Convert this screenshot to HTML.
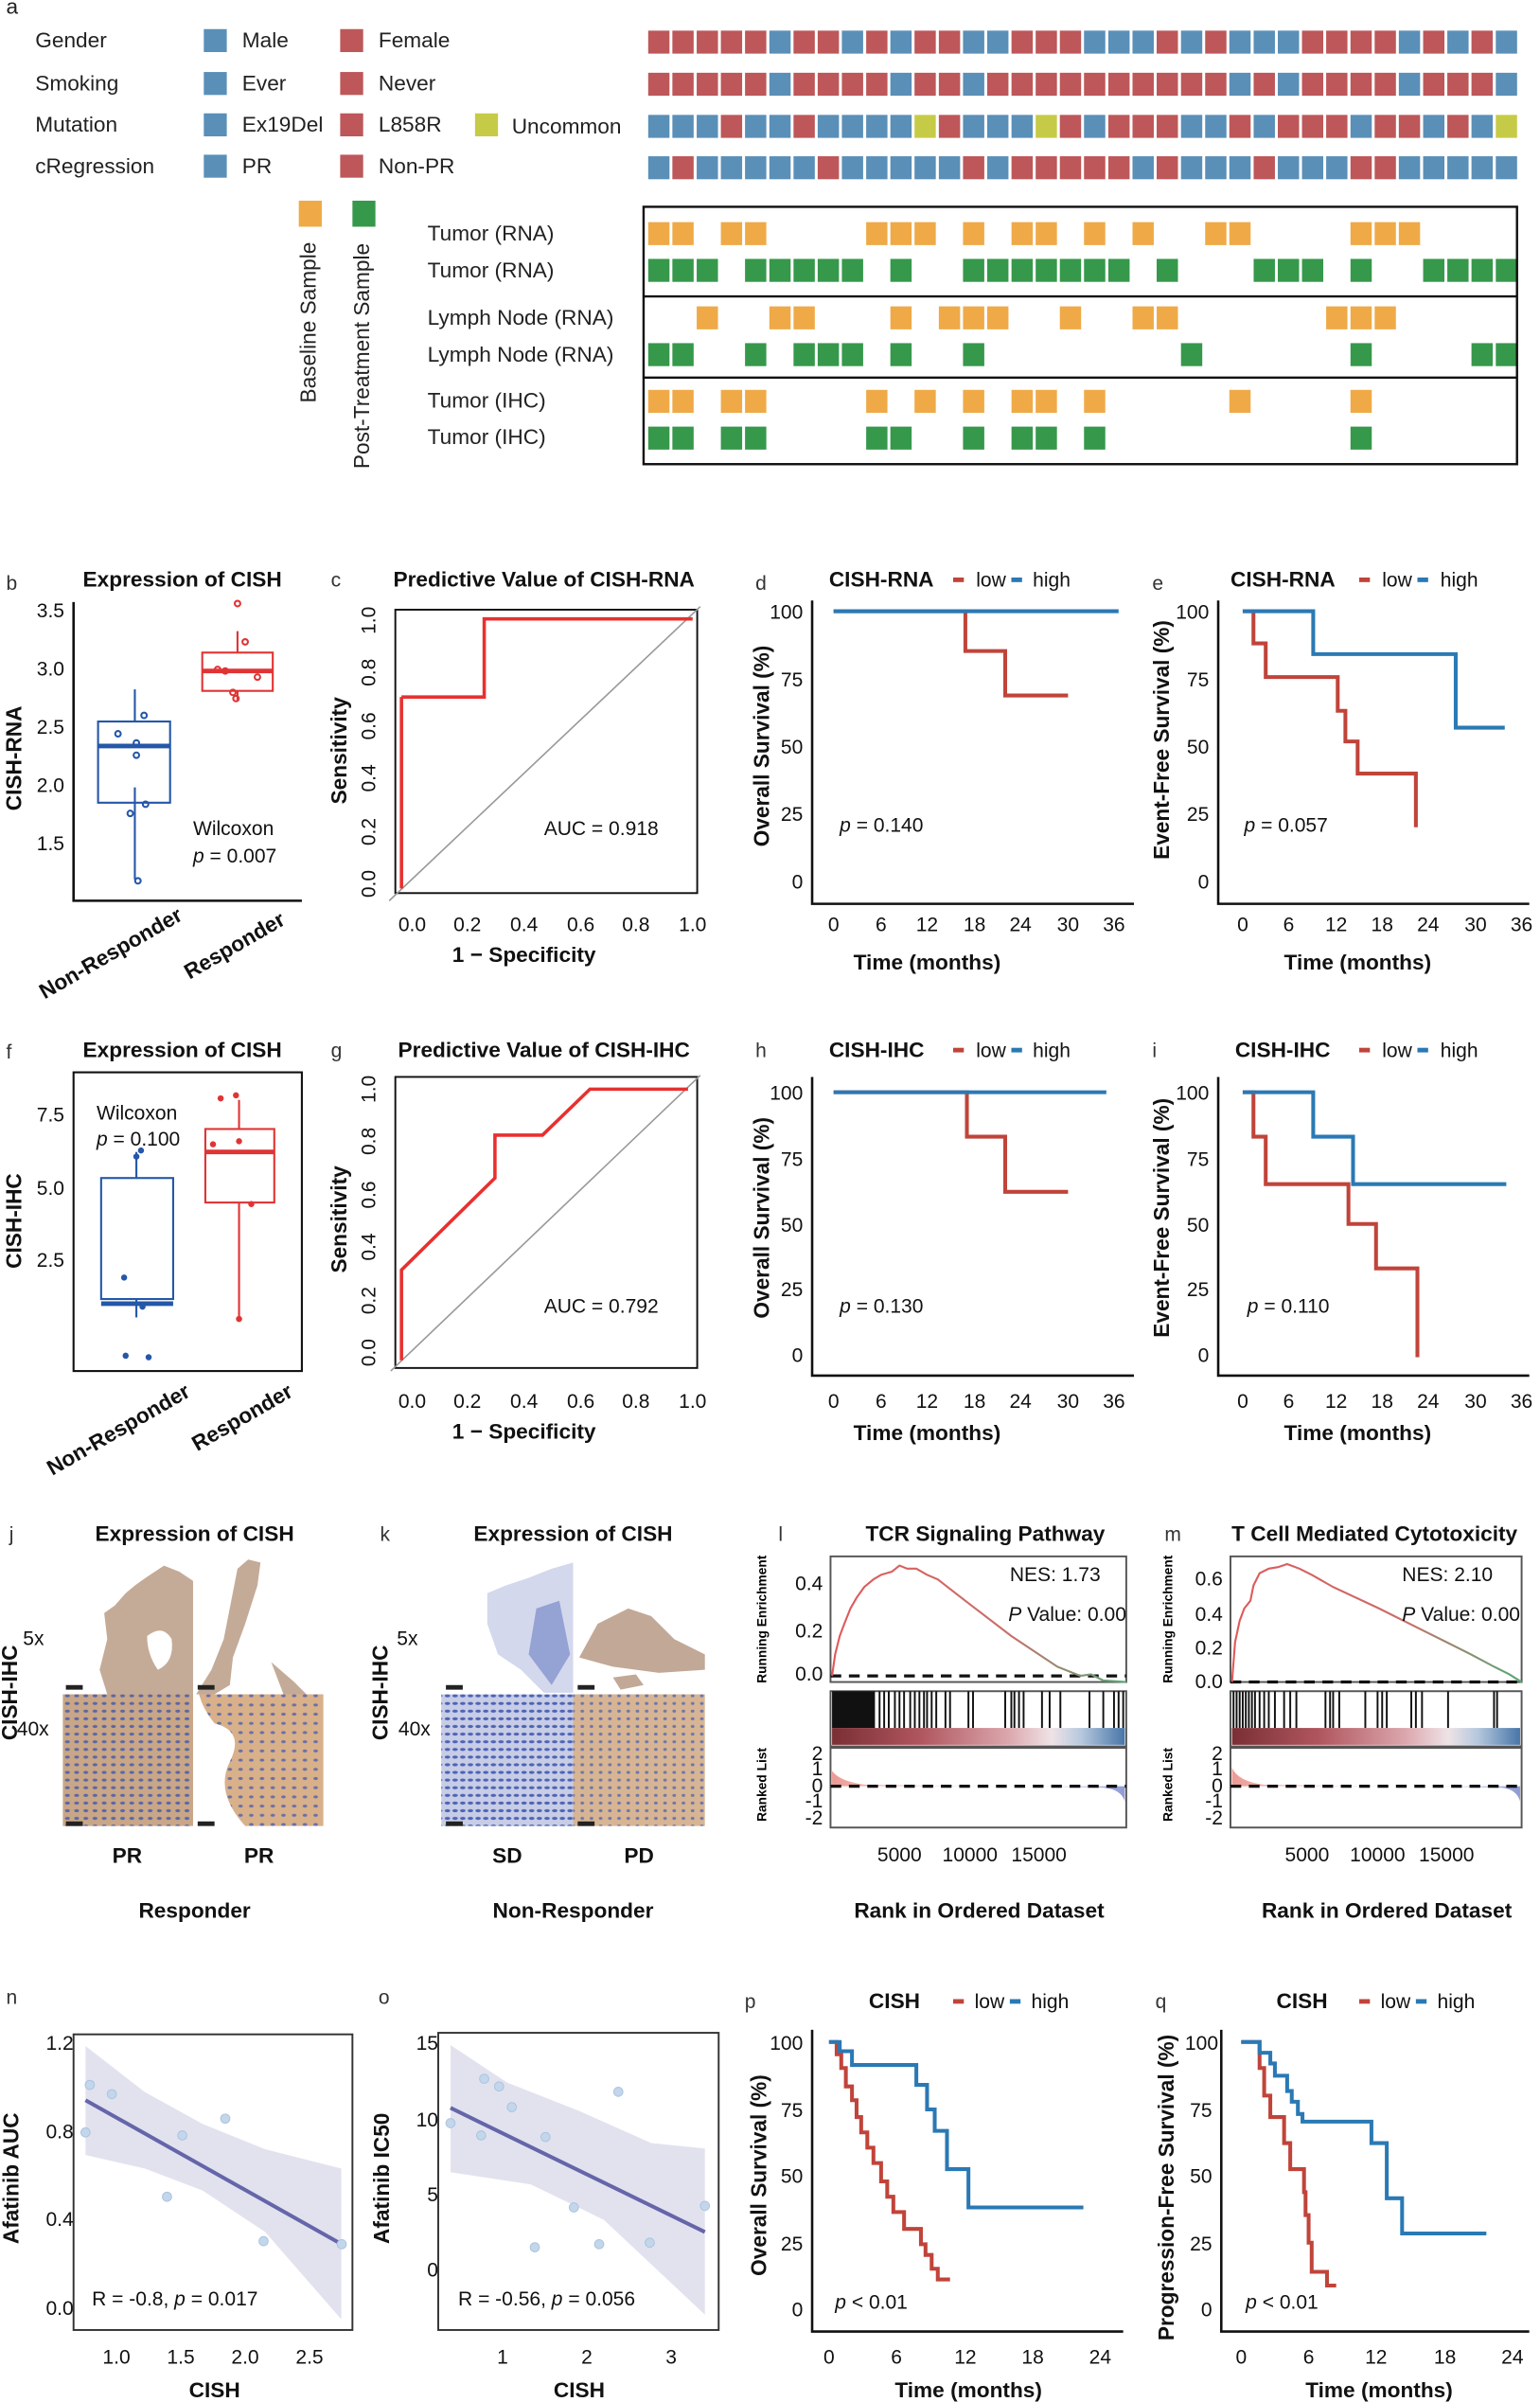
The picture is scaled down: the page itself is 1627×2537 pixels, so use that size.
<!DOCTYPE html>
<html><head><meta charset="utf-8">
<style>
html,body{margin:0;padding:0;background:#fff;}
svg{display:block;font-family:"Liberation Sans",sans-serif;}
.tl rect{width:14px;height:15px;}
.r{fill:#bd5759}.b{fill:#5a8fb8}.y{fill:#c6cb47}.o{fill:#efaa47}.g{fill:#36984b}
.lab{font-size:14px;fill:#222}
.t{font-size:14px;font-weight:bold;fill:#111}
.k{font-size:13px;fill:#111}
.pl{font-size:13px;fill:#333}
.ax{stroke:#111;stroke-width:1.6;fill:none}
.ln{fill:none;stroke-width:2.5}
</style></head><body>
<svg width="1627" height="2537" viewBox="0 0 1005 1568" preserveAspectRatio="none">
<defs>
<pattern id="pb" width="6" height="5" patternUnits="userSpaceOnUse"><rect width="6" height="5" fill="#c8a687"/><ellipse cx="2" cy="2" rx="1.6" ry="1" fill="#5a67a6"/></pattern>
<pattern id="pb2" width="7" height="6" patternUnits="userSpaceOnUse"><rect width="7" height="6" fill="#d8b08a"/><ellipse cx="3" cy="3" rx="1.5" ry="1" fill="#6b6fa8"/></pattern>
<pattern id="pbl" width="5" height="5" patternUnits="userSpaceOnUse"><rect width="5" height="5" fill="#c7cde6"/><ellipse cx="2" cy="2" rx="1.8" ry="1" fill="#4f63b5"/></pattern>
<pattern id="pd" width="6" height="5" patternUnits="userSpaceOnUse"><rect width="6" height="5" fill="#d7b594"/><ellipse cx="2" cy="2" rx="1.2" ry="1" fill="#7077a8"/></pattern>
<linearGradient id="ge" x1="0" x2="1"><stop offset="0" stop-color="#e0585a"/><stop offset="0.6" stop-color="#c8706a"/><stop offset="1" stop-color="#55aa77"/></linearGradient>
<linearGradient id="gb" x1="0" x2="1"><stop offset="0" stop-color="#7a2f35"/><stop offset="0.3" stop-color="#b0555e"/><stop offset="0.6" stop-color="#dba6ac"/><stop offset="0.75" stop-color="#efe3e6"/><stop offset="0.85" stop-color="#b7c9de"/><stop offset="1" stop-color="#4876a8"/></linearGradient>
<linearGradient id="gr" x1="0" x2="1"><stop offset="0" stop-color="#ec9a94"/><stop offset="0.3" stop-color="#f6dcd8"/><stop offset="0.7" stop-color="#fff"/><stop offset="1" stop-color="#8e9ad3"/></linearGradient>
</defs>

<!-- Panel a -->
<text x="4" y="9" class="lab" font-size="12">a</text>
<g class="lab">
<text x="23" y="31">Gender</text><text x="23" y="59">Smoking</text><text x="23" y="86">Mutation</text><text x="23" y="113">cRegression</text>
<rect x="133" y="19" width="15" height="15" class="b"/><text x="158" y="31">Male</text>
<rect x="222" y="19" width="15" height="15" class="r"/><text x="247" y="31">Female</text>
<rect x="133" y="47" width="15" height="15" class="b"/><text x="158" y="59">Ever</text>
<rect x="222" y="47" width="15" height="15" class="r"/><text x="247" y="59">Never</text>
<rect x="133" y="74" width="15" height="15" class="b"/><text x="158" y="86">Ex19Del</text>
<rect x="222" y="74" width="15" height="15" class="r"/><text x="247" y="86">L858R</text>
<rect x="310" y="74" width="15" height="15" class="y"/><text x="334" y="87">Uncommon</text>
<rect x="133" y="101" width="15" height="15" class="b"/><text x="158" y="113">PR</text>
<rect x="222" y="101" width="15" height="15" class="r"/><text x="247" y="113">Non-PR</text>
<rect x="195" y="131" width="15" height="17" class="o"/>
<rect x="230" y="131" width="15" height="17" class="g"/>
<text transform="translate(206,263) rotate(-90)">Baseline Sample</text>
<text transform="translate(241,306) rotate(-90)">Post-Treatment Sample</text>
<text x="279" y="157">Tumor (RNA)</text><text x="279" y="181">Tumor (RNA)</text>
<text x="279" y="212">Lymph Node (RNA)</text><text x="279" y="236">Lymph Node (RNA)</text>
<text x="279" y="266">Tumor (IHC)</text><text x="279" y="290">Tumor (IHC)</text>
</g>
<g transform="translate(3.4,0) scale(0.992,1)">
<g class="tl" transform="translate(0,20)">
<rect x="423" class="r"/><rect x="438.9" class="r"/><rect x="454.9" class="r"/><rect x="470.8" class="r"/><rect x="486.7" class="r"/><rect x="502.7" class="b"/><rect x="518.6" class="r"/><rect x="534.5" class="r"/><rect x="550.4" class="b"/><rect x="566.4" class="r"/><rect x="582.3" class="b"/><rect x="598.2" class="r"/><rect x="614.2" class="r"/><rect x="630.1" class="b"/><rect x="646" class="b"/><rect x="662" class="r"/><rect x="677.9" class="r"/><rect x="693.8" class="r"/><rect x="709.7" class="b"/><rect x="725.7" class="b"/><rect x="741.6" class="b"/><rect x="757.5" class="r"/><rect x="773.5" class="b"/><rect x="789.4" class="r"/><rect x="805.3" class="b"/><rect x="821.3" class="b"/><rect x="837.2" class="b"/><rect x="853.1" class="r"/><rect x="869" class="r"/><rect x="885" class="r"/><rect x="900.9" class="r"/><rect x="916.8" class="b"/><rect x="932.8" class="r"/><rect x="948.7" class="b"/><rect x="964.6" class="r"/><rect x="980.6" class="b"/>
</g>
<g class="tl" transform="translate(0,47.5)">
<rect x="423" class="r"/><rect x="438.9" class="r"/><rect x="454.9" class="r"/><rect x="470.8" class="r"/><rect x="486.7" class="r"/><rect x="502.7" class="b"/><rect x="518.6" class="r"/><rect x="534.5" class="r"/><rect x="550.4" class="r"/><rect x="566.4" class="r"/><rect x="582.3" class="b"/><rect x="598.2" class="r"/><rect x="614.2" class="r"/><rect x="630.1" class="b"/><rect x="646" class="r"/><rect x="662" class="r"/><rect x="677.9" class="r"/><rect x="693.8" class="r"/><rect x="709.7" class="r"/><rect x="725.7" class="r"/><rect x="741.6" class="r"/><rect x="757.5" class="r"/><rect x="773.5" class="r"/><rect x="789.4" class="r"/><rect x="805.3" class="b"/><rect x="821.3" class="r"/><rect x="837.2" class="b"/><rect x="853.1" class="r"/><rect x="869" class="r"/><rect x="885" class="r"/><rect x="900.9" class="r"/><rect x="916.8" class="b"/><rect x="932.8" class="r"/><rect x="948.7" class="r"/><rect x="964.6" class="r"/><rect x="980.6" class="b"/>
</g>
<g class="tl" transform="translate(0,75)">
<rect x="423" class="b"/><rect x="438.9" class="b"/><rect x="454.9" class="b"/><rect x="470.8" class="r"/><rect x="486.7" class="b"/><rect x="502.7" class="b"/><rect x="518.6" class="r"/><rect x="534.5" class="b"/><rect x="550.4" class="b"/><rect x="566.4" class="b"/><rect x="582.3" class="b"/><rect x="598.2" class="y"/><rect x="614.2" class="r"/><rect x="630.1" class="b"/><rect x="646" class="b"/><rect x="662" class="b"/><rect x="677.9" class="y"/><rect x="693.8" class="r"/><rect x="709.7" class="b"/><rect x="725.7" class="r"/><rect x="741.6" class="r"/><rect x="757.5" class="r"/><rect x="773.5" class="b"/><rect x="789.4" class="b"/><rect x="805.3" class="r"/><rect x="821.3" class="b"/><rect x="837.2" class="r"/><rect x="853.1" class="r"/><rect x="869" class="r"/><rect x="885" class="b"/><rect x="900.9" class="r"/><rect x="916.8" class="r"/><rect x="932.8" class="b"/><rect x="948.7" class="r"/><rect x="964.6" class="b"/><rect x="980.6" class="y"/>
</g>
<g class="tl" transform="translate(0,102)">
<rect x="423" class="b"/><rect x="438.9" class="r"/><rect x="454.9" class="b"/><rect x="470.8" class="b"/><rect x="486.7" class="b"/><rect x="502.7" class="b"/><rect x="518.6" class="b"/><rect x="534.5" class="r"/><rect x="550.4" class="b"/><rect x="566.4" class="b"/><rect x="582.3" class="b"/><rect x="598.2" class="b"/><rect x="614.2" class="b"/><rect x="630.1" class="r"/><rect x="646" class="b"/><rect x="662" class="r"/><rect x="677.9" class="r"/><rect x="693.8" class="r"/><rect x="709.7" class="r"/><rect x="725.7" class="r"/><rect x="741.6" class="b"/><rect x="757.5" class="r"/><rect x="773.5" class="b"/><rect x="789.4" class="b"/><rect x="805.3" class="b"/><rect x="821.3" class="r"/><rect x="837.2" class="b"/><rect x="853.1" class="b"/><rect x="869" class="b"/><rect x="885" class="r"/><rect x="900.9" class="r"/><rect x="916.8" class="b"/><rect x="932.8" class="b"/><rect x="948.7" class="b"/><rect x="964.6" class="b"/><rect x="980.6" class="b"/>
</g>
<g class="tl" transform="translate(0,145)"><rect x="423" class="o"/><rect x="438.9" class="o"/><rect x="470.8" class="o"/><rect x="486.7" class="o"/><rect x="566.4" class="o"/><rect x="582.3" class="o"/><rect x="598.2" class="o"/><rect x="630.1" class="o"/><rect x="662" class="o"/><rect x="677.9" class="o"/><rect x="709.7" class="o"/><rect x="741.6" class="o"/><rect x="789.4" class="o"/><rect x="805.3" class="o"/><rect x="885" class="o"/><rect x="900.9" class="o"/><rect x="916.8" class="o"/></g>
<g class="tl" transform="translate(0,169)"><rect x="423" class="g"/><rect x="438.9" class="g"/><rect x="454.9" class="g"/><rect x="486.7" class="g"/><rect x="502.7" class="g"/><rect x="518.6" class="g"/><rect x="534.5" class="g"/><rect x="550.4" class="g"/><rect x="582.3" class="g"/><rect x="630.1" class="g"/><rect x="646" class="g"/><rect x="662" class="g"/><rect x="677.9" class="g"/><rect x="693.8" class="g"/><rect x="709.7" class="g"/><rect x="725.7" class="g"/><rect x="757.5" class="g"/><rect x="821.3" class="g"/><rect x="837.2" class="g"/><rect x="853.1" class="g"/><rect x="885" class="g"/><rect x="932.8" class="g"/><rect x="948.7" class="g"/><rect x="964.6" class="g"/><rect x="980.6" class="g"/></g>
<g class="tl" transform="translate(0,200)"><rect x="454.9" class="o"/><rect x="502.7" class="o"/><rect x="518.6" class="o"/><rect x="582.3" class="o"/><rect x="614.2" class="o"/><rect x="630.1" class="o"/><rect x="646" class="o"/><rect x="693.8" class="o"/><rect x="741.6" class="o"/><rect x="757.5" class="o"/><rect x="869" class="o"/><rect x="885" class="o"/><rect x="900.9" class="o"/></g>
<g class="tl" transform="translate(0,224)"><rect x="423" class="g"/><rect x="438.9" class="g"/><rect x="486.7" class="g"/><rect x="518.6" class="g"/><rect x="534.5" class="g"/><rect x="550.4" class="g"/><rect x="582.3" class="g"/><rect x="630.1" class="g"/><rect x="773.5" class="g"/><rect x="885" class="g"/><rect x="964.6" class="g"/><rect x="980.6" class="g"/></g>
<g class="tl" transform="translate(0,254.5)"><rect x="423" class="o"/><rect x="438.9" class="o"/><rect x="470.8" class="o"/><rect x="486.7" class="o"/><rect x="566.4" class="o"/><rect x="598.2" class="o"/><rect x="630.1" class="o"/><rect x="662" class="o"/><rect x="677.9" class="o"/><rect x="709.7" class="o"/><rect x="805.3" class="o"/><rect x="885" class="o"/></g>
<g class="tl" transform="translate(0,278.5)"><rect x="423" class="g"/><rect x="438.9" class="g"/><rect x="470.8" class="g"/><rect x="486.7" class="g"/><rect x="566.4" class="g"/><rect x="582.3" class="g"/><rect x="630.1" class="g"/><rect x="662" class="g"/><rect x="677.9" class="g"/><rect x="709.7" class="g"/><rect x="885" class="g"/></g>
</g>
<rect x="420" y="135" width="570" height="168" fill="none" stroke="#111" stroke-width="1.5"/>
<line x1="420" y1="193.5" x2="990" y2="193.5" stroke="#111" stroke-width="1.5"/>
<line x1="420" y1="246.5" x2="990" y2="246.5" stroke="#111" stroke-width="1.5"/>

<!-- Panel b -->
<text x="4" y="385" class="pl">b</text>
<text x="119" y="383" class="t" text-anchor="middle">Expression of CISH</text>
<path class="ax" d="M48,393 V588 H197"/>
<g class="k" text-anchor="end"><text x="42" y="403">3.5</text><text x="42" y="441">3.0</text><text x="42" y="479">2.5</text><text x="42" y="517">2.0</text><text x="42" y="555">1.5</text></g>
<text transform="translate(14,495) rotate(-90)" class="t" text-anchor="middle">CISH-RNA</text>
<g stroke="#2457a8" fill="none" stroke-width="1.3">
<line x1="88" y1="514" x2="88" y2="574"/><line x1="88" y1="471" x2="88" y2="450"/>
<rect x="64" y="471" width="47" height="53"/><line x1="64" y1="487" x2="111" y2="487" stroke-width="3"/>
<circle cx="77" cy="479" r="1.8"/><circle cx="94" cy="467" r="1.8"/><circle cx="89" cy="485" r="1.8"/><circle cx="89" cy="493" r="1.8"/><circle cx="95" cy="525" r="1.8"/><circle cx="85" cy="531" r="1.8"/><circle cx="90" cy="575" r="1.8"/>
</g>
<g stroke="#e03434" fill="none" stroke-width="1.3">
<line x1="155" y1="426" x2="155" y2="412"/><line x1="155" y1="451" x2="155" y2="457"/>
<rect x="132" y="426" width="46" height="25"/><line x1="132" y1="438" x2="178" y2="438" stroke-width="3"/>
<circle cx="155" cy="394" r="1.8"/><circle cx="160" cy="419" r="1.8"/><circle cx="142" cy="437" r="1.8"/><circle cx="147" cy="438" r="1.8"/><circle cx="168" cy="442" r="1.8"/><circle cx="152" cy="452" r="1.8"/><circle cx="154" cy="456" r="1.8"/>
</g>
<text x="126" y="545" class="k">Wilcoxon</text>
<text x="126" y="563" class="k"><tspan font-style="italic">p</tspan> = 0.007</text>
<text transform="translate(120,600) rotate(-30)" class="t" text-anchor="end">Non-Responder</text>
<text transform="translate(187,603) rotate(-30)" class="t" text-anchor="end">Responder</text>

<!-- Panel c -->
<text x="216" y="383" class="pl">c</text>
<text x="355" y="383" class="t" text-anchor="middle">Predictive Value of CISH-RNA</text>
<rect x="258" y="398" width="197" height="185" fill="none" stroke="#111" stroke-width="1.2"/>
<line x1="254" y1="588" x2="457" y2="396" stroke="#999" stroke-width="1"/>
<path d="M262,455 H316 V404 H452 M262,580 V455" fill="none" stroke="#e8302f" stroke-width="2.2"/>
<g class="k" text-anchor="middle"><text x="269" y="608">0.0</text><text x="305" y="608">0.2</text><text x="342" y="608">0.4</text><text x="379" y="608">0.6</text><text x="415" y="608">0.8</text><text x="452" y="608">1.0</text></g>
<g class="k" text-anchor="middle">
<text transform="translate(245,577) rotate(-90)">0.0</text><text transform="translate(245,543) rotate(-90)">0.2</text><text transform="translate(245,508) rotate(-90)">0.4</text><text transform="translate(245,474) rotate(-90)">0.6</text><text transform="translate(245,439) rotate(-90)">0.8</text><text transform="translate(245,405) rotate(-90)">1.0</text></g>
<text transform="translate(226,490) rotate(-90)" class="t" text-anchor="middle">Sensitivity</text>
<text x="355" y="545" class="k">AUC = 0.918</text>
<text x="342" y="628" class="t" text-anchor="middle">1 − Specificity</text>

<!-- Panel d -->
<text x="493" y="385" class="pl">d</text>
<text x="541" y="383" class="t">CISH-RNA</text>
<rect x="622" y="377" width="7" height="3" fill="#c0443a"/><text x="637" y="383" class="k">low</text>
<rect x="660" y="377" width="7" height="3" fill="#2a79b4"/><text x="674" y="383" class="k">high</text>
<path class="ax" d="M530,392 V590 H740"/>
<g class="k" text-anchor="end"><text x="524" y="404">100</text><text x="524" y="448">75</text><text x="524" y="492">50</text><text x="524" y="536">25</text><text x="524" y="580">0</text></g>
<g class="k" text-anchor="middle"><text x="544" y="608">0</text><text x="575" y="608">6</text><text x="605" y="608">12</text><text x="636" y="608">18</text><text x="666" y="608">24</text><text x="697" y="608">30</text><text x="727" y="608">36</text></g>
<text transform="translate(502,487) rotate(-90)" class="t" text-anchor="middle">Overall Survival (%)</text>
<text x="605" y="633" class="t" text-anchor="middle">Time (months)</text>
<path class="ln" stroke="#c0443a" d="M544,399 H630 V425 H656 V454 H697"/>
<path class="ln" stroke="#2a79b4" d="M544,399 H730"/>
<text x="548" y="543" class="k"><tspan font-style="italic">p</tspan> = 0.140</text>

<!-- Panel e -->
<text x="752" y="385" class="pl">e</text>
<text x="803" y="383" class="t">CISH-RNA</text>
<rect x="887" y="377" width="7" height="3" fill="#c0443a"/><text x="902" y="383" class="k">low</text>
<rect x="925" y="377" width="7" height="3" fill="#2a79b4"/><text x="940" y="383" class="k">high</text>
<path class="ax" d="M795,392 V590 H998"/>
<g class="k" text-anchor="end"><text x="789" y="404">100</text><text x="789" y="448">75</text><text x="789" y="492">50</text><text x="789" y="536">25</text><text x="789" y="580">0</text></g>
<g class="k" text-anchor="middle"><text x="811" y="608">0</text><text x="841" y="608">6</text><text x="872" y="608">12</text><text x="902" y="608">18</text><text x="932" y="608">24</text><text x="963" y="608">30</text><text x="993" y="608">36</text></g>
<text transform="translate(763,483) rotate(-90)" class="t" text-anchor="middle">Event-Free Survival (%)</text>
<text x="886" y="633" class="t" text-anchor="middle">Time (months)</text>
<path class="ln" stroke="#c0443a" d="M811,399 H818 V420 H826 V442 H873 V464 H878 V484 H886 V505 H924 V540"/>
<path class="ln" stroke="#2a79b4" d="M811,399 H857 V427 H950 V475 H982"/>
<text x="812" y="543" class="k"><tspan font-style="italic">p</tspan> = 0.057</text>

<!-- Panel f -->
<text x="4" y="691" class="pl">f</text>
<text x="119" y="690" class="t" text-anchor="middle">Expression of CISH</text>
<rect x="48" y="700" width="149" height="195" fill="none" stroke="#111" stroke-width="1.3"/>
<g class="k" text-anchor="end"><text x="42" y="732">7.5</text><text x="42" y="780">5.0</text><text x="42" y="827">2.5</text></g>
<text transform="translate(14,797) rotate(-90)" class="t" text-anchor="middle">CISH-IHC</text>
<g stroke="#2457a8" fill="none" stroke-width="1.3">
<line x1="89" y1="848" x2="89" y2="860"/><line x1="89" y1="769" x2="89" y2="752"/>
<rect x="66" y="769" width="47" height="79"/><line x1="66" y1="851" x2="113" y2="851" stroke-width="3"/>
</g>
<g fill="#2457a8"><circle cx="92" cy="751" r="2"/><circle cx="89" cy="755" r="2"/><circle cx="81" cy="834" r="2"/><circle cx="93" cy="853" r="2"/><circle cx="82" cy="885" r="2"/><circle cx="97" cy="886" r="2"/></g>
<g stroke="#e03434" fill="none" stroke-width="1.3">
<line x1="156" y1="785" x2="156" y2="861"/><line x1="156" y1="737" x2="156" y2="718"/>
<rect x="134" y="737" width="45" height="48"/><line x1="134" y1="752" x2="179" y2="752" stroke-width="3"/>
</g>
<g fill="#e03434"><circle cx="144" cy="717" r="2"/><circle cx="154" cy="715" r="2"/><circle cx="139" cy="747" r="2"/><circle cx="156" cy="745" r="2"/><circle cx="164" cy="786" r="2"/><circle cx="156" cy="861" r="2"/></g>
<text x="63" y="731" class="k">Wilcoxon</text>
<text x="63" y="748" class="k"><tspan font-style="italic">p</tspan> = 0.100</text>
<text transform="translate(125,911) rotate(-30)" class="t" text-anchor="end">Non-Responder</text>
<text transform="translate(192,911) rotate(-30)" class="t" text-anchor="end">Responder</text>

<!-- Panel g -->
<text x="216" y="690" class="pl">g</text>
<text x="355" y="690" class="t" text-anchor="middle">Predictive Value of CISH-IHC</text>
<rect x="258" y="703" width="197" height="190" fill="none" stroke="#111" stroke-width="1.2"/>
<line x1="255" y1="895" x2="457" y2="702" stroke="#999" stroke-width="1"/>
<path d="M262,888 V829 L323,769 V741 H354 L385,711 H449" fill="none" stroke="#e8302f" stroke-width="2.2"/>
<g class="k" text-anchor="middle"><text x="269" y="919">0.0</text><text x="305" y="919">0.2</text><text x="342" y="919">0.4</text><text x="379" y="919">0.6</text><text x="415" y="919">0.8</text><text x="452" y="919">1.0</text></g>
<g class="k" text-anchor="middle">
<text transform="translate(245,883) rotate(-90)">0.0</text><text transform="translate(245,849) rotate(-90)">0.2</text><text transform="translate(245,814) rotate(-90)">0.4</text><text transform="translate(245,780) rotate(-90)">0.6</text><text transform="translate(245,745) rotate(-90)">0.8</text><text transform="translate(245,711) rotate(-90)">1.0</text></g>
<text transform="translate(226,796) rotate(-90)" class="t" text-anchor="middle">Sensitivity</text>
<text x="355" y="857" class="k">AUC = 0.792</text>
<text x="342" y="939" class="t" text-anchor="middle">1 − Specificity</text>

<!-- Panel h -->
<text x="493" y="690" class="pl">h</text>
<text x="541" y="690" class="t">CISH-IHC</text>
<rect x="622" y="684" width="7" height="3" fill="#c0443a"/><text x="637" y="690" class="k">low</text>
<rect x="660" y="684" width="7" height="3" fill="#2a79b4"/><text x="674" y="690" class="k">high</text>
<path class="ax" d="M530,703 V898 H740"/>
<g class="k" text-anchor="end"><text x="524" y="718">100</text><text x="524" y="761">75</text><text x="524" y="804">50</text><text x="524" y="846">25</text><text x="524" y="889">0</text></g>
<g class="k" text-anchor="middle"><text x="544" y="919">0</text><text x="575" y="919">6</text><text x="605" y="919">12</text><text x="636" y="919">18</text><text x="666" y="919">24</text><text x="697" y="919">30</text><text x="727" y="919">36</text></g>
<text transform="translate(502,795) rotate(-90)" class="t" text-anchor="middle">Overall Survival (%)</text>
<text x="605" y="940" class="t" text-anchor="middle">Time (months)</text>
<path class="ln" stroke="#c0443a" d="M544,713 H631 V742 H656 V778 H697"/>
<path class="ln" stroke="#2a79b4" d="M544,713 H722"/>
<text x="548" y="857" class="k"><tspan font-style="italic">p</tspan> = 0.130</text>

<!-- Panel i -->
<text x="752" y="690" class="pl">i</text>
<text x="806" y="690" class="t">CISH-IHC</text>
<rect x="887" y="684" width="7" height="3" fill="#c0443a"/><text x="902" y="690" class="k">low</text>
<rect x="925" y="684" width="7" height="3" fill="#2a79b4"/><text x="940" y="690" class="k">high</text>
<path class="ax" d="M795,703 V898 H998"/>
<g class="k" text-anchor="end"><text x="789" y="718">100</text><text x="789" y="761">75</text><text x="789" y="804">50</text><text x="789" y="846">25</text><text x="789" y="889">0</text></g>
<g class="k" text-anchor="middle"><text x="811" y="919">0</text><text x="841" y="919">6</text><text x="872" y="919">12</text><text x="902" y="919">18</text><text x="932" y="919">24</text><text x="963" y="919">30</text><text x="993" y="919">36</text></g>
<text transform="translate(763,795) rotate(-90)" class="t" text-anchor="middle">Event-Free Survival (%)</text>
<text x="886" y="940" class="t" text-anchor="middle">Time (months)</text>
<path class="ln" stroke="#c0443a" d="M811,713 H818 V742 H826 V773 H880 V799 H898 V828 H925 V886"/>
<path class="ln" stroke="#2a79b4" d="M811,713 H857 V742 H883 V773 H983"/>
<text x="814" y="857" class="k"><tspan font-style="italic">p</tspan> = 0.110</text>

<!-- Panel j -->
<text x="6" y="1006" class="pl">j</text>
<text x="127" y="1006" class="t" text-anchor="middle">Expression of CISH</text>
<path d="M68,1053 L75,1048 L82,1040 L88,1035 L95,1030 L107,1022 L117,1026 L126,1032 V1106 H70 L65,1090 L70,1070 Z" fill="#c4ab98"/>
<path d="M96,1068 Q106,1060 112,1070 Q114,1085 103,1090 Q96,1080 96,1068 Z" fill="#fff"/>
<path d="M155,1024 L162,1018 L170,1020 L168,1035 L160,1060 L152,1082 L150,1100 L140,1106 H128 L138,1090 L146,1070 Z" fill="#c4ab98"/>
<path d="M177,1085 L192,1098 L200,1106 H185 Z" fill="#c4ab98"/>
<rect x="41" y="1106" width="85" height="86" fill="url(#pb)"/>
<path d="M130,1106 H211 V1192 H160 Q140,1170 150,1150 Q160,1130 140,1125 Q132,1115 130,1106 Z" fill="url(#pb2)"/>
<rect x="43" y="1100" width="11" height="3" fill="#222"/><rect x="129" y="1100" width="11" height="3" fill="#222"/>
<rect x="43" y="1189" width="11" height="3" fill="#222"/><rect x="129" y="1189" width="11" height="3" fill="#222"/>
<text x="15" y="1074" class="k">5x</text><text x="11" y="1133" class="k">40x</text>
<text transform="translate(11,1105) rotate(-90)" class="t" text-anchor="middle">CISH-IHC</text>
<text x="83" y="1216" class="t" text-anchor="middle">PR</text><text x="169" y="1216" class="t" text-anchor="middle">PR</text>
<text x="127" y="1252" class="t" text-anchor="middle">Responder</text>

<!-- Panel k -->
<text x="248" y="1006" class="pl">k</text>
<text x="374" y="1006" class="t" text-anchor="middle">Expression of CISH</text>
<path d="M318,1040 L330,1035 L345,1030 L360,1024 L374,1020 V1105 H355 L340,1090 L325,1080 L318,1060 Z" fill="#d3d8ec"/>
<path d="M350,1050 L365,1045 L372,1080 L360,1100 L345,1080 Z" fill="#95a2d4"/>
<path d="M390,1060 L410,1050 L425,1055 L440,1070 L460,1080 V1090 L430,1092 L400,1088 L378,1082 Z" fill="#c2a896"/>
<path d="M400,1095 L415,1093 L420,1100 L405,1103 Z" fill="#c2a896"/>
<rect x="288" y="1106" width="86" height="86" fill="url(#pbl)"/>
<rect x="374" y="1106" width="86" height="86" fill="url(#pd)"/>
<rect x="291" y="1100" width="11" height="3" fill="#222"/><rect x="377" y="1100" width="11" height="3" fill="#222"/>
<rect x="291" y="1189" width="11" height="3" fill="#222"/><rect x="377" y="1189" width="11" height="3" fill="#222"/>
<text x="259" y="1074" class="k">5x</text><text x="260" y="1133" class="k">40x</text>
<text transform="translate(253,1105) rotate(-90)" class="t" text-anchor="middle">CISH-IHC</text>
<text x="331" y="1216" class="t" text-anchor="middle">SD</text><text x="417" y="1216" class="t" text-anchor="middle">PD</text>
<text x="374" y="1252" class="t" text-anchor="middle">Non-Responder</text>

<!-- Panel l -->
<text x="508" y="1006" class="pl">l</text>
<text x="643" y="1006" class="t" text-anchor="middle">TCR Signaling Pathway</text>
<rect x="542" y="1016" width="193" height="82" fill="none" stroke="#555" stroke-width="1.2"/>
<line x1="542" y1="1094" x2="735" y2="1094" stroke="#111" stroke-width="2" stroke-dasharray="7,5"/>
<path d="M543,1094 L545,1080 L548,1068 L551,1060 L555,1050 L559,1043 L564,1036 L570,1031 L575,1028 L582,1026 L587,1022 L592,1024 L598,1024 L605,1028 L612,1031 L630,1045 L660,1068 L690,1088 L705,1094 L712,1093 L720,1097 L735,1098" fill="none" stroke="url(#ge)" stroke-width="1.3"/>
<g class="k" font-size="9" text-anchor="end"><text x="537" y="1038">0.4</text><text x="537" y="1069">0.2</text><text x="537" y="1097">0.0</text></g>
<rect x="542" y="1104" width="193" height="36" fill="#fff" stroke="#555" stroke-width="1.2"/>
<rect x="543" y="1104" width="28" height="24" fill="#111"/>
<g stroke="#111" stroke-width="1.2"><line x1="574" y1="1104" x2="574" y2="1128"/><line x1="577" y1="1104" x2="577" y2="1128"/><line x1="580" y1="1104" x2="580" y2="1128"/><line x1="584" y1="1104" x2="584" y2="1128"/><line x1="587" y1="1104" x2="587" y2="1128"/><line x1="590" y1="1104" x2="590" y2="1128"/><line x1="594" y1="1104" x2="594" y2="1128"/><line x1="597" y1="1104" x2="597" y2="1128"/><line x1="600" y1="1104" x2="600" y2="1128"/><line x1="603" y1="1104" x2="603" y2="1128"/><line x1="605" y1="1104" x2="605" y2="1128"/><line x1="608" y1="1104" x2="608" y2="1128"/><line x1="611" y1="1104" x2="611" y2="1128"/><line x1="617" y1="1104" x2="617" y2="1128"/><line x1="620" y1="1104" x2="620" y2="1128"/><line x1="632" y1="1104" x2="632" y2="1128"/><line x1="635" y1="1104" x2="635" y2="1128"/><line x1="656" y1="1104" x2="656" y2="1128"/><line x1="660" y1="1104" x2="660" y2="1128"/><line x1="662" y1="1104" x2="662" y2="1128"/><line x1="665" y1="1104" x2="665" y2="1128"/><line x1="668" y1="1104" x2="668" y2="1128"/><line x1="680" y1="1104" x2="680" y2="1128"/><line x1="685" y1="1104" x2="685" y2="1128"/><line x1="692" y1="1104" x2="692" y2="1128"/><line x1="711" y1="1104" x2="711" y2="1128"/><line x1="720" y1="1104" x2="720" y2="1128"/><line x1="727" y1="1104" x2="727" y2="1128"/><line x1="730" y1="1104" x2="730" y2="1128"/><line x1="733" y1="1104" x2="733" y2="1128"/></g>
<rect x="543" y="1128" width="191" height="11" fill="url(#gb)"/>
<rect x="542" y="1141" width="193" height="52" fill="none" stroke="#555" stroke-width="1.2"/>
<path d="M543,1156 Q548,1163 565,1165 L660,1166 L720,1167 Q732,1168 734,1176 V1166 H543 Z" fill="url(#gr)"/>
<line x1="542" y1="1166" x2="735" y2="1166" stroke="#111" stroke-width="2" stroke-dasharray="7,5"/>
<g class="k" font-size="9" text-anchor="end"><text x="537" y="1149">2</text><text x="537" y="1159">1</text><text x="537" y="1170">0</text><text x="537" y="1180">-1</text><text x="537" y="1191">-2</text></g>
<text transform="translate(500,1057) rotate(-90)" font-size="8.5" font-weight="bold" text-anchor="middle">Running Enrichment</text>
<text transform="translate(500,1165) rotate(-90)" font-size="8.5" font-weight="bold" text-anchor="middle">Ranked List</text>
<g class="k" text-anchor="middle"><text x="587" y="1215">5000</text><text x="633" y="1215">10000</text><text x="678" y="1215">15000</text></g>
<text x="639" y="1252" class="t" font-size="13" text-anchor="middle">Rank in Ordered Dataset</text>

<!-- Panel m -->
<text x="760" y="1006" class="pl">m</text>
<text x="897" y="1006" class="t" text-anchor="middle">T Cell Mediated Cytotoxicity</text>
<rect x="803" y="1016" width="190" height="82" fill="none" stroke="#555" stroke-width="1.2"/>
<line x1="803" y1="1098" x2="993" y2="1098" stroke="#111" stroke-width="2" stroke-dasharray="7,5"/>
<path d="M804,1098 L806,1072 L809,1058 L812,1050 L816,1045 L818,1035 L822,1027 L828,1024 L834,1023 L840,1021 L848,1024 L856,1028 L870,1036 L900,1050 L930,1065 L960,1080 L975,1088 L985,1093 L993,1098" fill="none" stroke="url(#ge)" stroke-width="1.3"/>
<g class="k" font-size="9" text-anchor="end"><text x="798" y="1035">0.6</text><text x="798" y="1058">0.4</text><text x="798" y="1080">0.2</text><text x="798" y="1102">0.0</text></g>
<rect x="803" y="1104" width="190" height="36" fill="#fff" stroke="#555" stroke-width="1.2"/>
<g stroke="#111" stroke-width="1.2"><line x1="805" y1="1104" x2="805" y2="1128"/><line x1="807" y1="1104" x2="807" y2="1128"/><line x1="809" y1="1104" x2="809" y2="1128"/><line x1="811" y1="1104" x2="811" y2="1128"/><line x1="813" y1="1104" x2="813" y2="1128"/><line x1="815" y1="1104" x2="815" y2="1128"/><line x1="817" y1="1104" x2="817" y2="1128"/><line x1="819" y1="1104" x2="819" y2="1128"/><line x1="822" y1="1104" x2="822" y2="1128"/><line x1="825" y1="1104" x2="825" y2="1128"/><line x1="828" y1="1104" x2="828" y2="1128"/><line x1="832" y1="1104" x2="832" y2="1128"/><line x1="838" y1="1104" x2="838" y2="1128"/><line x1="842" y1="1104" x2="842" y2="1128"/><line x1="846" y1="1104" x2="846" y2="1128"/><line x1="865" y1="1104" x2="865" y2="1128"/><line x1="868" y1="1104" x2="868" y2="1128"/><line x1="870" y1="1104" x2="870" y2="1128"/><line x1="874" y1="1104" x2="874" y2="1128"/><line x1="891" y1="1104" x2="891" y2="1128"/><line x1="899" y1="1104" x2="899" y2="1128"/><line x1="902" y1="1104" x2="902" y2="1128"/><line x1="905" y1="1104" x2="905" y2="1128"/><line x1="921" y1="1104" x2="921" y2="1128"/><line x1="924" y1="1104" x2="924" y2="1128"/><line x1="928" y1="1104" x2="928" y2="1128"/><line x1="945" y1="1104" x2="945" y2="1128"/><line x1="975" y1="1104" x2="975" y2="1128"/><line x1="977" y1="1104" x2="977" y2="1128"/></g>
<rect x="804" y="1128" width="188" height="11" fill="url(#gb)"/>
<rect x="803" y="1141" width="190" height="52" fill="none" stroke="#555" stroke-width="1.2"/>
<path d="M804,1154 Q808,1163 825,1165 L920,1166 L980,1167 Q990,1168 992,1176 V1166 H804 Z" fill="url(#gr)"/>
<line x1="803" y1="1166" x2="993" y2="1166" stroke="#111" stroke-width="2" stroke-dasharray="7,5"/>
<g class="k" font-size="9" text-anchor="end"><text x="798" y="1149">2</text><text x="798" y="1159">1</text><text x="798" y="1170">0</text><text x="798" y="1180">-1</text><text x="798" y="1191">-2</text></g>
<text transform="translate(765,1057) rotate(-90)" font-size="8.5" font-weight="bold" text-anchor="middle">Running Enrichment</text>
<text transform="translate(765,1165) rotate(-90)" font-size="8.5" font-weight="bold" text-anchor="middle">Ranked List</text>
<g class="k" text-anchor="middle"><text x="853" y="1215">5000</text><text x="899" y="1215">10000</text><text x="944" y="1215">15000</text></g>
<text x="905" y="1252" class="t" font-size="13" text-anchor="middle">Rank in Ordered Dataset</text>
<text x="915" y="1032" class="k" font-size="12">NES: 2.10</text>
<text x="915" y="1058" class="k" font-size="12"><tspan font-style="italic">P</tspan> Value: 0.00</text>
<text x="659" y="1032" class="k" font-size="12">NES: 1.73</text>
<text x="658" y="1058" class="k" font-size="12"><tspan font-style="italic">P</tspan> Value: 0.00</text>

<!-- Panel n -->
<text x="4" y="1308" class="pl">n</text>
<path d="M55.8,1335.6 L94.5,1365.7 L132.3,1386.5 L173,1403 L222.7,1415.6 V1514 L173,1457 L132.3,1430 L94.5,1415.6 L55.8,1406.8 Z" fill="#e2e2ef"/>
<rect x="48" y="1328" width="182" height="193" fill="none" stroke="#333" stroke-width="1.2"/>
<line x1="55.8" y1="1371" x2="223" y2="1465" stroke="#6565aa" stroke-width="2.5"/>
<g fill="#c3d6ea" stroke="#aac4e0" stroke-width="0.6"><circle cx="58.6" cy="1361" r="3"/><circle cx="73" cy="1367" r="3"/><circle cx="55.8" cy="1392" r="3"/><circle cx="119" cy="1394" r="3"/><circle cx="147" cy="1383" r="3"/><circle cx="109" cy="1434" r="3"/><circle cx="172" cy="1463" r="3"/><circle cx="223" cy="1465" r="3"/></g>
<g class="k" text-anchor="end"><text x="48" y="1338">1.2</text><text x="48" y="1396">0.8</text><text x="48" y="1453">0.4</text><text x="48" y="1511">0.0</text></g>
<g class="k" text-anchor="middle"><text x="76" y="1543">1.0</text><text x="118" y="1543">1.5</text><text x="160" y="1543">2.0</text><text x="202" y="1543">2.5</text></g>
<text transform="translate(12,1422) rotate(-90)" class="t" text-anchor="middle">Afatinib AUC</text>
<text x="140" y="1565" class="t" text-anchor="middle">CISH</text>
<text x="60" y="1505" class="k"><tspan>R = -0.8, </tspan><tspan font-style="italic">p</tspan> = 0.017</text>

<!-- Panel o -->
<text x="247" y="1308" class="pl">o</text>
<path d="M294,1335 L331,1359.5 L378,1378 L425,1399 L460,1402.5 V1511 L394,1449 L346.5,1426 L294,1418 Z" fill="#e2e2ef"/>
<rect x="286" y="1327" width="183" height="194" fill="none" stroke="#333" stroke-width="1.2"/>
<line x1="294" y1="1376" x2="460" y2="1457" stroke="#6565aa" stroke-width="2.5"/>
<g fill="#c3d6ea" stroke="#aac4e0" stroke-width="0.6"><circle cx="294" cy="1386" r="3"/><circle cx="316" cy="1357" r="3"/><circle cx="325.7" cy="1362" r="3"/><circle cx="314" cy="1394" r="3"/><circle cx="334" cy="1375.5" r="3"/><circle cx="356" cy="1395" r="3"/><circle cx="403.5" cy="1365.5" r="3"/><circle cx="374.5" cy="1441" r="3"/><circle cx="349" cy="1467" r="3"/><circle cx="391" cy="1465" r="3"/><circle cx="424" cy="1464" r="3"/><circle cx="460" cy="1440" r="3"/></g>
<g class="k" text-anchor="end"><text x="286" y="1338">15</text><text x="286" y="1388">10</text><text x="286" y="1437">5</text><text x="286" y="1486">0</text></g>
<g class="k" text-anchor="middle"><text x="328" y="1543">1</text><text x="383" y="1543">2</text><text x="438" y="1543">3</text></g>
<text transform="translate(254,1422) rotate(-90)" class="t" text-anchor="middle">Afatinib IC50</text>
<text x="378" y="1565" class="t" text-anchor="middle">CISH</text>
<text x="299" y="1505" class="k">R = -0.56, <tspan font-style="italic">p</tspan> = 0.056</text>

<!-- Panel p -->
<text x="486" y="1311" class="pl">p</text>
<text x="567" y="1311" class="t">CISH</text>
<rect x="622" y="1305" width="7" height="3" fill="#c0443a"/><text x="636" y="1311" class="k">low</text>
<rect x="659" y="1305" width="7" height="3" fill="#2a79b4"/><text x="673" y="1311" class="k">high</text>
<path class="ax" d="M530,1325 V1522 H733"/>
<g class="k" text-anchor="end"><text x="524" y="1338">100</text><text x="524" y="1382">75</text><text x="524" y="1425">50</text><text x="524" y="1469">25</text><text x="524" y="1512">0</text></g>
<g class="k" text-anchor="middle"><text x="541" y="1543">0</text><text x="585" y="1543">6</text><text x="630" y="1543">12</text><text x="674" y="1543">18</text><text x="718" y="1543">24</text></g>
<text transform="translate(500,1420) rotate(-90)" class="t" text-anchor="middle">Overall Survival (%)</text>
<text x="632" y="1565" class="t" text-anchor="middle">Time (months)</text>
<path class="ln" stroke="#c0443a" stroke-width="2.2" d="M541,1333 H546 V1341 H549 V1350 H552 V1362 H556 V1371 H559 V1382 H562 V1392 H566 V1402 H570 V1412 H575 V1424 H579 V1434 H583 V1444 H590 V1455 H601 V1465 H604 V1472 H608 V1481 H612 V1488 H620"/>
<path class="ln" stroke="#2a79b4" stroke-width="2.2" d="M541,1333 H548 V1339 H556 V1348 H598 V1361 H605 V1377 H610 V1391 H618 V1416 H632 V1441 H707"/>
<text x="545" y="1507" class="k"><tspan font-style="italic">p</tspan> &lt; 0.01</text>

<!-- Panel q -->
<text x="754" y="1311" class="pl">q</text>
<text x="833" y="1311" class="t">CISH</text>
<rect x="887" y="1305" width="7" height="3" fill="#c0443a"/><text x="901" y="1311" class="k">low</text>
<rect x="924" y="1305" width="7" height="3" fill="#2a79b4"/><text x="938" y="1311" class="k">high</text>
<path class="ax" d="M797,1325 V1522 H998"/>
<g class="k" text-anchor="end"><text x="795" y="1338">100</text><text x="791" y="1382">75</text><text x="791" y="1425">50</text><text x="791" y="1469">25</text><text x="791" y="1512">0</text></g>
<g class="k" text-anchor="middle"><text x="810" y="1543">0</text><text x="854" y="1543">6</text><text x="898" y="1543">12</text><text x="943" y="1543">18</text><text x="987" y="1543">24</text></g>
<text transform="translate(766,1428) rotate(-90)" class="t" text-anchor="middle">Progression-Free Survival (%)</text>
<text x="900" y="1565" class="t" text-anchor="middle">Time (months)</text>
<path class="ln" stroke="#c0443a" stroke-width="2.2" d="M810,1333 H822 V1350 H825 V1368 H829 V1382 H838 V1399 H842 V1416 H851 V1431 H852 V1446 H854 V1464 H856 V1483 H866 V1492 H872"/>
<path class="ln" stroke="#2a79b4" stroke-width="2.2" d="M810,1333 H822 V1340 H829 V1347 H832 V1355 H840 V1365 H843 V1372 H847 V1380 H850 V1385 H895 V1399 H905 V1435 H915 V1458 H970"/>
<text x="813" y="1507" class="k"><tspan font-style="italic">p</tspan> &lt; 0.01</text>
</svg>
</body></html>
